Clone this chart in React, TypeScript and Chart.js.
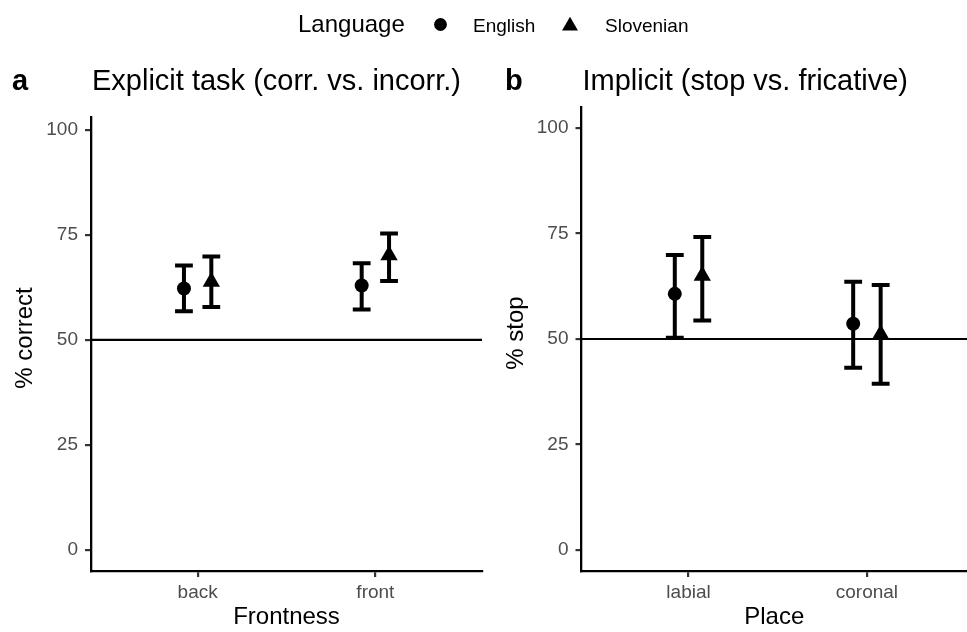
import { useEffect, useRef } from 'react';
import { Chart, registerables } from 'chart.js';

Chart.register(...registerables);

// ---------- data ----------
const languages = ['English', 'Slovenian'];
const frontnessCategories = ['back', 'front'];
const placeCategories = ['labial', 'coronal'];
const yTickValues = [0, 25, 50, 75, 100];
const chanceLevel = 50;

const explicitEnglishMean = [62.2, 62.9];
const explicitEnglishLow = [56.8, 57.2];
const explicitEnglishHigh = [67.7, 68.2];
const explicitSlovenianMean = [63.8, 70.1];
const explicitSlovenianLow = [57.8, 64.0];
const explicitSlovenianHigh = [69.8, 75.3];

const implicitEnglishMean = [60.7, 53.6];
const implicitEnglishLow = [50.3, 43.2];
const implicitEnglishHigh = [69.9, 63.6];
const implicitSlovenianMean = [65.0, 51.1];
const implicitSlovenianLow = [54.4, 39.4];
const implicitSlovenianHigh = [74.2, 62.8];

// ---------- style ----------
const FONT = "'Liberation Sans', Arial, Helvetica, sans-serif";
const DODGE = 0.077;
const CAP_HALF = 0.05;

const buildPoints = (mean: number[], lo: number[], hi: number[], shift: number) =>
  mean.map((m, i) => ({ x: i + 1 + shift, y: m, lo: lo[i], hi: hi[i] }));

const errorBarPlugin = {
  id: 'errorBars',
  beforeDatasetsDraw(chart: any) {
    const { ctx, chartArea, scales } = chart;
    const xs = scales.x;
    const ys = scales.y;
    ctx.save();
    // reference line at chance level
    const yl = ys.getPixelForValue(chanceLevel);
    ctx.strokeStyle = '#000';
    ctx.lineWidth = 2.2;
    ctx.beginPath();
    ctx.moveTo(chartArea.left, yl);
    ctx.lineTo(chartArea.right, yl);
    ctx.stroke();
    // error bars
    ctx.lineWidth = 4;
    ctx.lineCap = 'butt';
    chart.data.datasets.forEach((ds: any) => {
      ds.data.forEach((p: any) => {
        if (p.lo === undefined) return;
        const xc = xs.getPixelForValue(p.x);
        const xl = xs.getPixelForValue(p.x - CAP_HALF);
        const xr = xs.getPixelForValue(p.x + CAP_HALF);
        const yt = ys.getPixelForValue(p.hi);
        const yb = ys.getPixelForValue(p.lo);
        ctx.beginPath();
        ctx.moveTo(xc, yt);
        ctx.lineTo(xc, yb);
        ctx.moveTo(xl, yt);
        ctx.lineTo(xr, yt);
        ctx.moveTo(xl, yb);
        ctx.lineTo(xr, yb);
        ctx.stroke();
      });
    });
    ctx.restore();
  },
};

const headerPlugin = {
  id: 'header',
  afterDraw(chart: any, _args: any, opts: any) {
    const { ctx, chartArea } = chart;
    ctx.save();
    ctx.fillStyle = '#000';
    ctx.textBaseline = 'alphabetic';
    ctx.textAlign = 'left';
    ctx.font = `bold 29px ${FONT}`;
    ctx.fillText(opts.tag, opts.tagX, 90);
    ctx.font = `29px ${FONT}`;
    ctx.fillText(opts.title, chartArea.left + 1, 90);
    // y axis title
    ctx.save();
    ctx.font = `24px ${FONT}`;
    ctx.textAlign = 'center';
    ctx.textBaseline = 'middle';
    ctx.translate(opts.yTitleX, (chartArea.top + chartArea.bottom) / 2 - 6);
    ctx.rotate(-Math.PI / 2);
    ctx.fillText(opts.yTitle, 0, 0);
    ctx.restore();
    if (opts.legend) {
      ctx.font = `24px ${FONT}`;
      ctx.fillText('Language', 298, 32);
      ctx.font = `19px ${FONT}`;
      ctx.fillText(languages[0], 473, 32);
      ctx.fillText(languages[1], 605, 32);
      ctx.beginPath();
      ctx.arc(440.5, 24.5, 6.4, 0, Math.PI * 2);
      ctx.fill();
      const r = 9.2;
      const cx = 570;
      const cy = 26;
      ctx.beginPath();
      ctx.moveTo(cx, cy - r);
      ctx.lineTo(cx + (r * Math.sqrt(3)) / 2, cy + r / 2);
      ctx.lineTo(cx - (r * Math.sqrt(3)) / 2, cy + r / 2);
      ctx.closePath();
      ctx.fill();
    }
    ctx.restore();
  },
};

type PanelSpec = {
  categories: string[];
  xTitle: string;
  yTitle: string;
  yTitleX: number;
  tag: string;
  tagX: number;
  title: string;
  legend: boolean;
  xMax: number;
  yMax: number;
  padLeft: number;
  padRight: number;
  padTop: number;
  engMean: number[];
  engLo: number[];
  engHi: number[];
  sloMean: number[];
  sloLo: number[];
  sloHi: number[];
};

function makeConfig(p: PanelSpec): any {
  return {
    type: 'scatter',
    data: {
      datasets: [
        {
          label: languages[0],
          data: buildPoints(p.engMean, p.engLo, p.engHi, -DODGE),
          pointStyle: 'circle',
          pointRadius: 7,
          backgroundColor: '#000',
          borderColor: '#000',
          borderWidth: 0,
        },
        {
          label: languages[1],
          data: buildPoints(p.sloMean, p.sloLo, p.sloHi, DODGE),
          pointStyle: 'triangle',
          pointRadius: 10,
          backgroundColor: '#000',
          borderColor: '#000',
          borderWidth: 0,
        },
      ],
    },
    options: {
      animation: false,
      responsive: false,
      events: [],
      layout: {
        autoPadding: false,
        padding: { left: p.padLeft, right: p.padRight, top: p.padTop, bottom: 0 },
      },
      plugins: {
        legend: { display: false },
        tooltip: { enabled: false },
        header: {
          tag: p.tag,
          tagX: p.tagX,
          title: p.title,
          legend: p.legend,
          yTitle: p.yTitle,
          yTitleX: p.yTitleX,
        },
      },
      scales: {
        x: {
          type: 'linear',
          min: 0.4,
          max: p.xMax,
          afterBuildTicks: (s: any) => {
            s.ticks = p.categories.map((_, i) => ({ value: i + 1 }));
          },
          afterFit: (s: any) => {
            s.height = 61;
            s.paddingLeft = 0;
            s.paddingRight = 0;
          },
          ticks: {
            callback: (v: number) => p.categories[Math.round(v) - 1],
            color: '#4D4D4D',
            font: { family: FONT, size: 19 },
            padding: 4,
            maxRotation: 0,
            autoSkip: false,
          },
          grid: { drawOnChartArea: false, drawTicks: true, tickLength: 6, color: '#333333', lineWidth: 2.2 },
          border: { display: true, color: '#000', width: 2.3 },
          title: {
            display: true,
            text: p.xTitle,
            color: '#000',
            font: { family: FONT, size: 24 },
            padding: { top: 0, bottom: 0 },
          },
        },
        y: {
          type: 'linear',
          min: -5,
          max: p.yMax,
          afterBuildTicks: (s: any) => {
            s.ticks = yTickValues.map((v) => ({ value: v }));
          },
          afterFit: (s: any) => {
            s.width = 91;
            s.paddingTop = 0;
            s.paddingBottom = 0;
          },
          ticks: {
            color: '#4D4D4D',
            font: { family: FONT, size: 19 },
            padding: 7,
          },
          grid: { drawOnChartArea: false, drawTicks: true, tickLength: 6, color: '#333333', lineWidth: 2.2 },
          border: { display: true, color: '#000', width: 2.3 },
          title: { display: false },
        },
      },
    },
    plugins: [errorBarPlugin, headerPlugin],
  };
}

const panelA: PanelSpec = {
  categories: frontnessCategories,
  xTitle: 'Frontness',
  yTitle: '% correct',
  yTitleX: 25,
  tag: 'a',
  tagX: 12,
  title: 'Explicit task (corr. vs. incorr.)',
  legend: true,
  xMax: 2.6,
  yMax: 103,
  padLeft: 0,
  padRight: 485,
  padTop: 117,
  engMean: explicitEnglishMean,
  engLo: explicitEnglishLow,
  engHi: explicitEnglishHigh,
  sloMean: explicitSlovenianMean,
  sloLo: explicitSlovenianLow,
  sloHi: explicitSlovenianHigh,
};

const panelB: PanelSpec = {
  categories: placeCategories,
  xTitle: 'Place',
  yTitle: '% stop',
  yTitleX: 516,
  tag: 'b',
  tagX: 505,
  title: 'Implicit (stop vs. fricative)',
  legend: false,
  xMax: 2.561,
  yMax: 105,
  padLeft: 490.5,
  padRight: 0,
  padTop: 107,
  engMean: implicitEnglishMean,
  engLo: implicitEnglishLow,
  engHi: implicitEnglishHigh,
  sloMean: implicitSlovenianMean,
  sloLo: implicitSlovenianLow,
  sloHi: implicitSlovenianHigh,
};

export default function App() {
  const refA = useRef<HTMLCanvasElement | null>(null);
  const refB = useRef<HTMLCanvasElement | null>(null);

  useEffect(() => {
    const a = new Chart(refA.current as HTMLCanvasElement, makeConfig(panelA));
    const b = new Chart(refB.current as HTMLCanvasElement, makeConfig(panelB));
    return () => {
      a.destroy();
      b.destroy();
    };
  }, []);

  const canvasStyle: any = { position: 'absolute', left: 0, top: 0, width: 967, height: 632 };
  return (
    <div style={{ position: 'fixed', left: 0, top: 0, width: 967, height: 632, background: '#fff' }}>
      <canvas ref={refA} width={967} height={632} style={canvasStyle} />
      <canvas ref={refB} width={967} height={632} style={canvasStyle} />
    </div>
  );
}
